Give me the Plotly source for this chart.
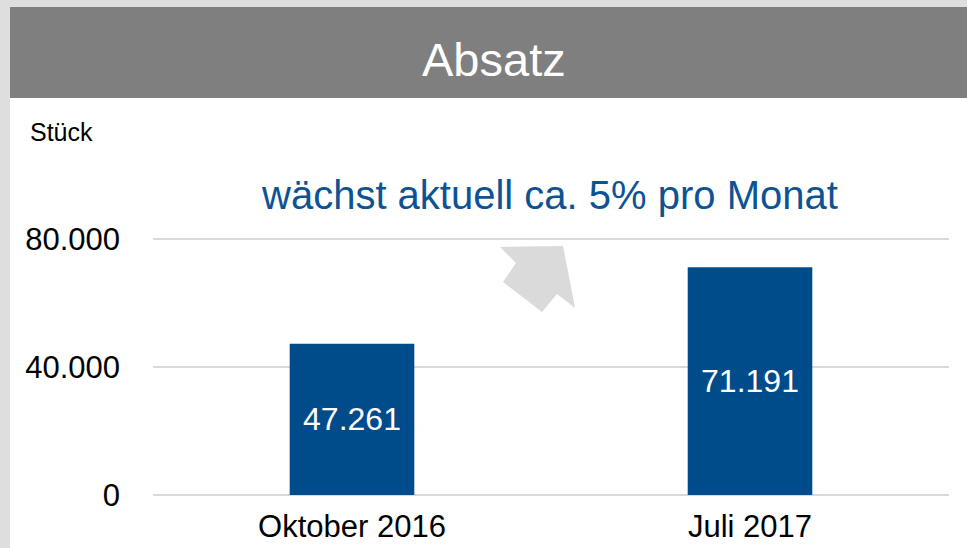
import plotly.graph_objects as go

# Data
months = ["Oktober 2016", "Juli 2017"]
absatz = [47261, 71191]
y_ticks = [0, 40000, 80000]

W, H = 967, 548
# plot area: 0 sits at y=495 px, 80.000 at y=239 px; pad a few px so edge gridlines show
PAD = 6
Y0, Y80 = 495, 239
L, R, T, B = 153, 18, Y80 - PAD, H - Y0 - PAD
PW, PH = W - L - R, H - T - B
Y_PAD = PAD * 80000 / (Y0 - Y80)

def px(x):
    return (x - L) / PW


def py(y):
    return (H - B - y) / PH


fig = go.Figure()

fig.add_trace(go.Bar(
    x=months,
    y=absatz,
    marker=dict(color="#004b8a", line=dict(width=0)),
    texttemplate="%{y:,d}",
    textposition="inside",
    insidetextanchor="middle",
    textfont=dict(color="white", size=32),
    cliponaxis=False,
))

shapes = [
    # light grey frame (left and top)
    dict(type="rect", xref="paper", yref="paper", x0=px(0), x1=px(10), y0=py(H), y1=py(0),
         fillcolor="#dedede", line=dict(width=0), layer="below"),
    dict(type="rect", xref="paper", yref="paper", x0=px(0), x1=px(W), y0=py(7), y1=py(0),
         fillcolor="#dedede", line=dict(width=0), layer="below"),
    # header band
    dict(type="rect", xref="paper", yref="paper", x0=px(10), x1=px(W), y0=py(98), y1=py(7),
         fillcolor="#7f7f7f", line=dict(width=0), layer="below"),
]

# grey arrow pointing up-right
arrow_pts = [(500, 247), (563, 246), (575, 308), (557, 294), (542, 312), (503, 282), (516, 263)]
path = "M " + " L ".join(f"{px(x):.4f},{py(y):.4f}" for x, y in arrow_pts) + " Z"
shapes.append(dict(type="path", xref="paper", yref="paper", path=path,
                   fillcolor="#dadada", line=dict(width=0), layer="above"))

annotations = [
    dict(text="Absatz", xref="paper", yref="paper", x=px(494), y=py(59),
         xanchor="center", yanchor="middle", showarrow=False,
         font=dict(size=47, color="white")),
    dict(text="Stück", xref="paper", yref="paper", x=px(28), y=py(132),
         xanchor="left", yanchor="middle", showarrow=False,
         font=dict(size=25, color="black")),
    dict(text="wächst aktuell ca. 5% pro Monat", xref="paper", yref="paper", x=px(549), y=py(195),
         xanchor="center", yanchor="middle", showarrow=False,
         font=dict(size=40, color="#0d5394")),
]

fig.update_layout(
    width=W, height=H, autosize=False,
    margin=dict(l=L, r=R, t=T, b=B, pad=0),
    paper_bgcolor="white",
    plot_bgcolor="white",
    font=dict(family="Liberation Sans, Arial, sans-serif", color="black"),
    separators=",.",
    showlegend=False,
    bargap=0.687,
    shapes=shapes,
    annotations=annotations,
)

fig.update_xaxes(
    automargin=False,
    showline=False, showgrid=False, zeroline=False,
    tickfont=dict(size=31, color="black"),
    ticks="", ticklabelstandoff=4,
)

fig.update_yaxes(
    automargin=False,
    range=[-Y_PAD, 80000 + Y_PAD],
    tickvals=y_ticks,
    tickformat=",d",
    showline=False, zeroline=False,
    showgrid=True, gridcolor="#d9d9d9", gridwidth=2,
    tickfont=dict(size=31, color="black"),
    ticks="", ticklabelstandoff=32,
)

fig.write_html("out.html", config={"displayModeBar": False, "responsive": False},
               post_script="document.body.style.margin='0';")
